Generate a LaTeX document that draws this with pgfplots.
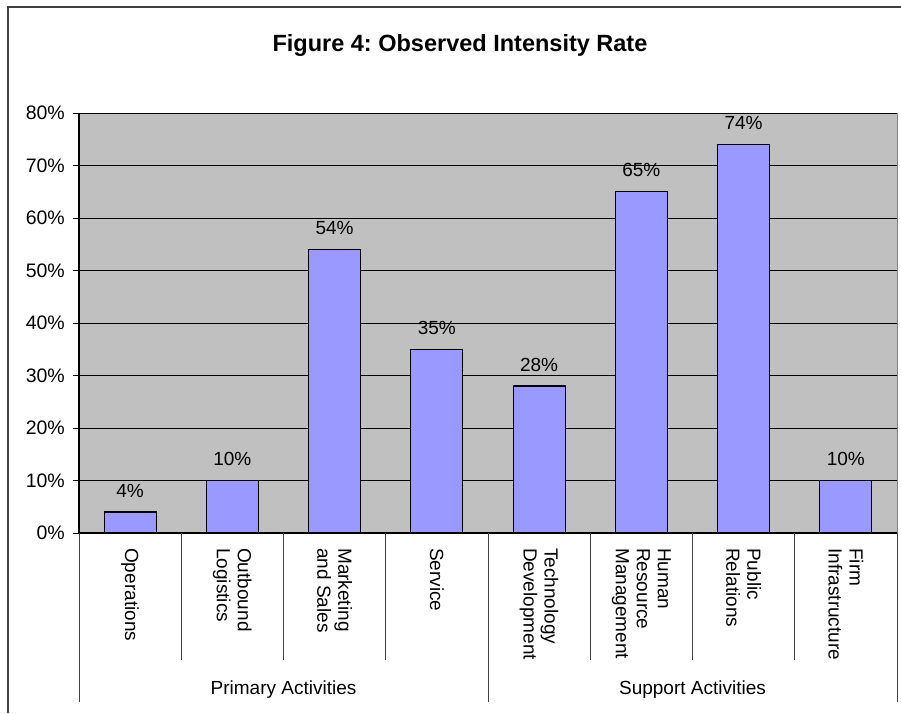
\documentclass[border=0pt]{standalone}
\usepackage{pgfplots}
\pgfplotsset{compat=1.18}
\usepackage{fontspec}
\setmainfont{Liberation Sans}
\frenchspacing
\definecolor{plotbg}{HTML}{C0C0C0}
\definecolor{barcol}{HTML}{9999FF}
\definecolor{framecol}{HTML}{404040}
\begin{document}
\begin{tikzpicture}[x=1pt,y=1pt]
\useasboundingbox (0,0) rectangle (901,713);
% outer chart frame
\draw[framecol, line width=1.6pt] (8,0) -- (8,706) -- (902,706);
% title
\node[anchor=base, font=\fontsize{23.5}{28}\selectfont\bfseries] at (460,661) {Figure 4: Observed Intensity Rate};
\begin{axis}[
  at={(79pt,180pt)}, anchor=south west,
  scale only axis, width=818pt, height=420pt,
  xmin=-0.5, xmax=7.5, ymin=0, ymax=80,
  clip=false,
  axis x line*=bottom, axis y line*=left,
  axis line style={-, black, line width=1.1pt},
  axis background/.style={fill=plotbg, draw=gray},
  ybar, bar width=52pt,
  ytick={0,10,...,80},
  ymajorgrids, major grid style={black, line width=0.9pt},
  tick align=outside,
  major tick length=6pt,
  ytick style={black, line width=1pt},
  xtick={0,...,7},
  xtick style={draw=none},
  /pgf/number format/assume math mode=true,
  yticklabel={\pgfmathprintnumber{\tick}\%},
  yticklabel style={font=\fontsize{19.5}{22}\selectfont, inner sep=2pt, xshift=-6pt},
  xticklabels={Operations, {Outbound\\Logistics}, {Marketing\\and Sales}, Service, {Technology\\Development}, {Human\\Resource\\Management}, {Public\\Relations}, {Firm\\Infrastructure}},
  xticklabel style={font=\fontsize{19}{21}\selectfont, rotate=-90, anchor=west, align=left, inner sep=0pt},
  xticklabel shift=9pt,
  nodes near coords={\pgfmathprintnumber{\pgfplotspointmeta}\%},
  nodes near coords style={font=\fontsize{19}{22}\selectfont, anchor=base, yshift=15pt, inner sep=0pt},
]
\addplot[fill=barcol, draw=black, line width=1.2pt] coordinates {
  (0,4) (1,10) (2,54) (3,35) (4,28) (5,65) (6,74) (7,10)
};
% category separators
\pgfplotsinvokeforeach{0.5,1.5,2.5,4.5,5.5,6.5}{
  \draw[black!75, line width=1pt] (axis cs:#1,0) -- ++(0pt,-127pt);
}
\pgfplotsinvokeforeach{-0.5,3.5,7.5}{
  \draw[black!75, line width=1pt] (axis cs:#1,0) -- ++(0pt,-169pt);
}
% group labels
\node[anchor=base, font=\fontsize{19}{22}\selectfont] at ([yshift=-161pt]axis cs:1.5,0) {Primary Activities};
\node[anchor=base, font=\fontsize{19}{22}\selectfont] at ([yshift=-161pt]axis cs:5.5,0) {Support Activities};
\end{axis}
\end{tikzpicture}
\end{document}
